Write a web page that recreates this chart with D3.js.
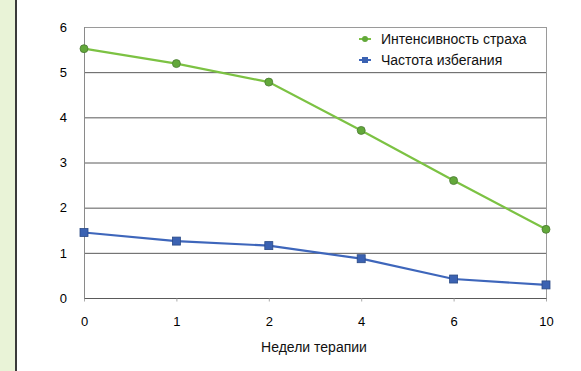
<!DOCTYPE html>
<html><head><meta charset="utf-8">
<script src="https://cdn.jsdelivr.net/npm/d3@7/dist/d3.min.js"></script>
<style>html,body{margin:0;padding:0;background:#fff;}svg{display:block;}</style>
</head><body>
<script>
const weeks = ["0","1","2","4","6","10"];
const fear = [5.52, 5.19, 4.78, 3.71, 2.6, 1.52];
const avoidance = [1.45, 1.26, 1.16, 0.87, 0.42, 0.29];
const yTicks = [0,1,2,3,4,5,6];
const seriesNames = ["Интенсивность страха", "Частота избегания"];
const xTitle = "Недели терапии";

const W = 581, H = 371;
const svg = d3.select("body").append("svg").attr("width", W).attr("height", H);
const font = "'Liberation Sans', Arial, sans-serif";

// left decorative strip
svg.append("rect").attr("x",0).attr("y",0).attr("width",15).attr("height",H).attr("fill","#e9f3d7");
svg.append("rect").attr("x",15).attr("y",0).attr("width",2).attr("height",H).attr("fill","#3a3a3a");

const m = {l:84, r:546, t:27, b:298};
const x = d3.scalePoint().domain(weeks).range([m.l, m.r]).padding(0);
const y = d3.scaleLinear().domain([0,6]).range([m.b, m.t]);

// gridlines
svg.append("g").selectAll("line").data(yTicks.filter(d=>d>0 && d<6)).join("line")
  .attr("x1",m.l).attr("x2",m.r).attr("y1",d=>y(d)+0.5).attr("y2",d=>y(d)+0.5)
  .attr("stroke","#5a5a5a").attr("stroke-width",1);
// frame
svg.append("line").attr("x1",m.l).attr("x2",m.r).attr("y1",y(6)+0.5).attr("y2",y(6)+0.5).attr("stroke","#9a9a9a");
svg.append("line").attr("x1",m.l+0.5).attr("x2",m.l+0.5).attr("y1",m.t).attr("y2",m.b).attr("stroke","#8a8a8a");
svg.append("line").attr("x1",m.r+0.5).attr("x2",m.r+0.5).attr("y1",m.t).attr("y2",m.b).attr("stroke","#9a9a9a");

// y axis labels
const yAxis = d3.axisLeft(y).tickValues(yTicks).tickSize(0).tickPadding(17).tickFormat(d3.format("d"));
const gy = svg.append("g").attr("transform",`translate(${m.l},0)`).call(yAxis);
gy.select(".domain").remove();
gy.selectAll("text").attr("font-family",font).attr("font-size",13).attr("fill","#000");

// x axis
const xAxis = d3.axisBottom(x).tickSize(3).tickPadding(15);
const gx = svg.append("g").attr("transform",`translate(0,${m.b+0.5})`).call(xAxis);
gx.select(".domain").attr("stroke","#5a5a5a").attr("d",`M${m.l},0H${m.r+1}`);
gx.selectAll(".tick line").attr("stroke","#aaa");
gx.selectAll("text").attr("font-family",font).attr("font-size",13).attr("fill","#000");

svg.append("text").attr("x",314).attr("y",352).attr("text-anchor","middle")
  .attr("font-family",font).attr("font-size",14).attr("fill","#111").text(xTitle);

const line = d3.line().x((d,i)=>x(weeks[i])).y(d=>y(d));
const greenLine = "#7cc243", greenMark = "#62a83a", blueLine = "#3e66bb", blueMark = "#3b62b2";

svg.append("path").datum(fear).attr("d",line).attr("fill","none").attr("stroke",greenLine).attr("stroke-width",2.2);
svg.append("path").datum(avoidance).attr("d",line).attr("fill","none").attr("stroke",blueLine).attr("stroke-width",2.2);

svg.append("g").selectAll("circle").data(fear).join("circle")
  .attr("cx",(d,i)=>x(weeks[i])).attr("cy",d=>y(d)).attr("r",4)
  .attr("fill",greenMark).attr("stroke","#4d7a35").attr("stroke-width",0.8);
svg.append("g").selectAll("rect").data(avoidance).join("rect")
  .attr("x",(d,i)=>x(weeks[i])-4).attr("y",d=>y(d)-4).attr("width",8).attr("height",8)
  .attr("fill",blueMark).attr("stroke","#2b4a85").attr("stroke-width",0.8);

// legend
const lg = svg.append("g");
const ly = [39, 60];
lg.append("line").attr("x1",359).attr("x2",371).attr("y1",ly[0]).attr("y2",ly[0]).attr("stroke",greenLine).attr("stroke-width",2);
lg.append("circle").attr("cx",365).attr("cy",ly[0]).attr("r",3).attr("fill",greenMark);
lg.append("line").attr("x1",359).attr("x2",371).attr("y1",ly[1]).attr("y2",ly[1]).attr("stroke",blueLine).attr("stroke-width",2);
lg.append("rect").attr("x",362).attr("y",ly[1]-3).attr("width",6).attr("height",6).attr("fill",blueMark);
lg.selectAll("text").data(seriesNames).join("text")
  .attr("x",381).attr("y",(d,i)=>ly[i]+5).attr("font-family",font).attr("font-size",14).attr("fill","#111").text(d=>d);
</script>
</body></html>
